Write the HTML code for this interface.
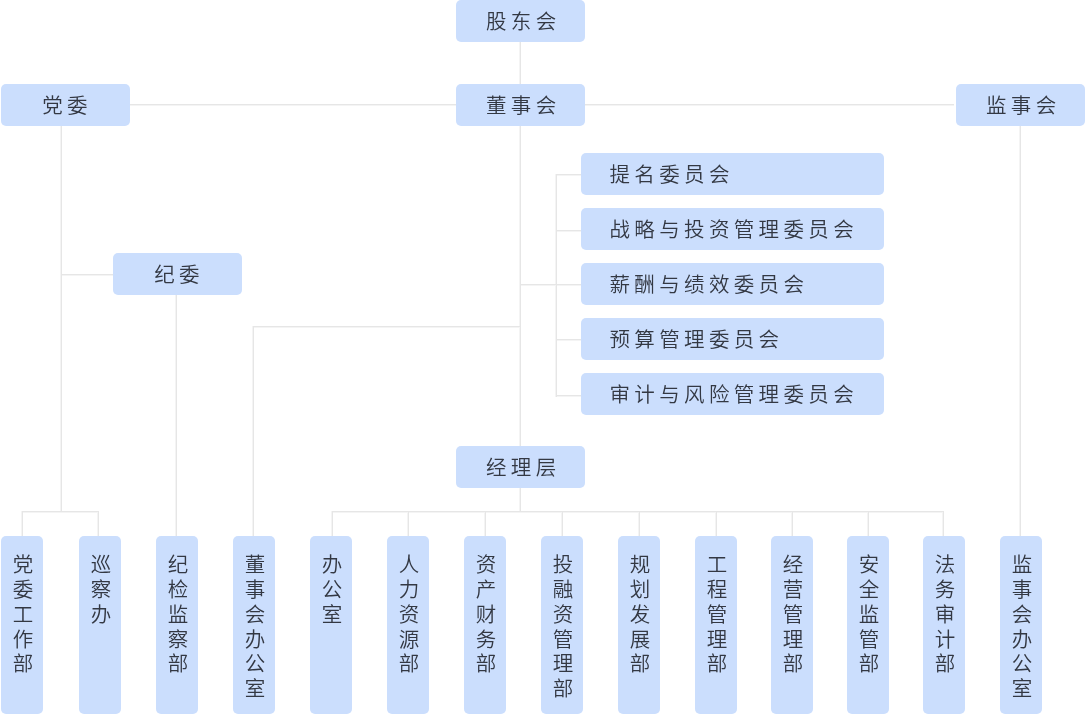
<!DOCTYPE html>
<html lang="zh-CN">
<head>
<meta charset="utf-8">
<title>组织架构</title>
<style>
html,body{margin:0;padding:0;background:#fff}
body{position:relative;width:1086px;height:715px;overflow:hidden;font-family:"Liberation Sans","Noto Sans CJK SC",sans-serif;font-weight:350;font-size:20.5px;color:#333843}
#w{position:absolute;left:0;top:0;width:1086px;height:715px;will-change:transform}
.b{position:absolute;background:#cbdefd;border-radius:5px;box-sizing:border-box;white-space:nowrap}
.h{height:42px;line-height:43px;text-align:center;letter-spacing:4.35px;padding-left:4.35px}
.c{left:581px;width:302.5px;height:42px;line-height:43px;padding-left:28.5px;letter-spacing:4.35px}
.v{top:536px;width:42px;height:178px;padding:17px 9px 0 11px;white-space:normal;word-break:break-all;line-height:24.85px;text-align:center}
.v span{display:block;width:22px}
</style>
</head>
<body><div id="w">
<svg width="1086" height="715" viewBox="0 0 1086 715" shape-rendering="crispEdges" style="position:absolute;left:0;top:0">
<g fill="#f4f4f4">
<rect x="519" y="42" width="1" height="469"/>
<rect x="130" y="105" width="326" height="1"/>
<rect x="585" y="105" width="369" height="1"/>
<rect x="60" y="126" width="1" height="385"/>
<rect x="61" y="275" width="52" height="1"/>
<rect x="175" y="295" width="1" height="241"/>
<rect x="22" y="512" width="77" height="1"/>
<rect x="21" y="511" width="1" height="25"/>
<rect x="97" y="511" width="1" height="25"/>
<rect x="253" y="327" width="267" height="1"/>
<rect x="252" y="326" width="1" height="210"/>
<rect x="555" y="174" width="1" height="223"/>
<rect x="556" y="175" width="25" height="1"/>
<rect x="556" y="231" width="25" height="1"/>
<rect x="556" y="340" width="25" height="1"/>
<rect x="556" y="396" width="25" height="1"/>
<rect x="520" y="285" width="61" height="1"/>
<rect x="332" y="512" width="612" height="1"/>
<rect x="331" y="511" width="1" height="25"/>
<rect x="407" y="511" width="1" height="25"/>
<rect x="484" y="511" width="1" height="25"/>
<rect x="561" y="511" width="1" height="25"/>
<rect x="638" y="511" width="1" height="25"/>
<rect x="715" y="511" width="1" height="25"/>
<rect x="791" y="511" width="1" height="25"/>
<rect x="867" y="511" width="1" height="25"/>
<rect x="942" y="511" width="1" height="25"/>
<rect x="1019" y="126" width="1" height="410"/>
</g>
<g fill="#e6e6e6">
<rect x="520" y="42" width="1" height="469"/>
<rect x="130" y="104" width="326" height="1"/>
<rect x="585" y="104" width="369" height="1"/>
<rect x="61" y="126" width="1" height="385"/>
<rect x="61" y="274" width="52" height="1"/>
<rect x="176" y="295" width="1" height="241"/>
<rect x="22" y="511" width="77" height="1"/>
<rect x="22" y="511" width="1" height="25"/>
<rect x="98" y="511" width="1" height="25"/>
<rect x="253" y="326" width="267" height="1"/>
<rect x="253" y="326" width="1" height="210"/>
<rect x="556" y="174" width="1" height="223"/>
<rect x="556" y="174" width="25" height="1"/>
<rect x="556" y="230" width="25" height="1"/>
<rect x="556" y="339" width="25" height="1"/>
<rect x="556" y="395" width="25" height="1"/>
<rect x="520" y="284" width="61" height="1"/>
<rect x="332" y="511" width="612" height="1"/>
<rect x="332" y="511" width="1" height="25"/>
<rect x="408" y="511" width="1" height="25"/>
<rect x="485" y="511" width="1" height="25"/>
<rect x="562" y="511" width="1" height="25"/>
<rect x="639" y="511" width="1" height="25"/>
<rect x="716" y="511" width="1" height="25"/>
<rect x="792" y="511" width="1" height="25"/>
<rect x="868" y="511" width="1" height="25"/>
<rect x="943" y="511" width="1" height="25"/>
<rect x="1020" y="126" width="1" height="410"/>
</g>
</svg>
<div class="b h" style="left:456px;top:0px;width:129px;padding-left:5.6px">股东会</div>
<div class="b h" style="left:1px;top:84px;width:129px;padding-left:3px">党委</div>
<div class="b h" style="left:456px;top:84px;width:129px;padding-left:5.6px">董事会</div>
<div class="b h" style="left:956px;top:84px;width:129px;padding-left:5.6px">监事会</div>
<div class="b h" style="left:113px;top:253px;width:129px;padding-left:3px">纪委</div>
<div class="b h" style="left:456px;top:446px;width:129px;padding-left:5.6px">经理层</div>
<div class="b c" style="top:153px">提名委员会</div>
<div class="b c" style="top:208px">战略与投资管理委员会</div>
<div class="b c" style="top:263px">薪酬与绩效委员会</div>
<div class="b c" style="top:318px">预算管理委员会</div>
<div class="b c" style="top:373px">审计与风险管理委员会</div>
<div class="b v" style="left:1px"><span>党委工作部</span></div>
<div class="b v" style="left:79px"><span>巡察办</span></div>
<div class="b v" style="left:156px"><span>纪检监察部</span></div>
<div class="b v" style="left:233px"><span>董事会办公室</span></div>
<div class="b v" style="left:310px"><span>办公室</span></div>
<div class="b v" style="left:387px"><span>人力资源部</span></div>
<div class="b v" style="left:464px"><span>资产财务部</span></div>
<div class="b v" style="left:541px"><span>投融资管理部</span></div>
<div class="b v" style="left:618px"><span>规划发展部</span></div>
<div class="b v" style="left:695px"><span>工程管理部</span></div>
<div class="b v" style="left:771px"><span>经营管理部</span></div>
<div class="b v" style="left:847px"><span>安全监管部</span></div>
<div class="b v" style="left:923px"><span>法务审计部</span></div>
<div class="b v" style="left:1000px"><span>监事会办公室</span></div>
</div></body>
</html>
